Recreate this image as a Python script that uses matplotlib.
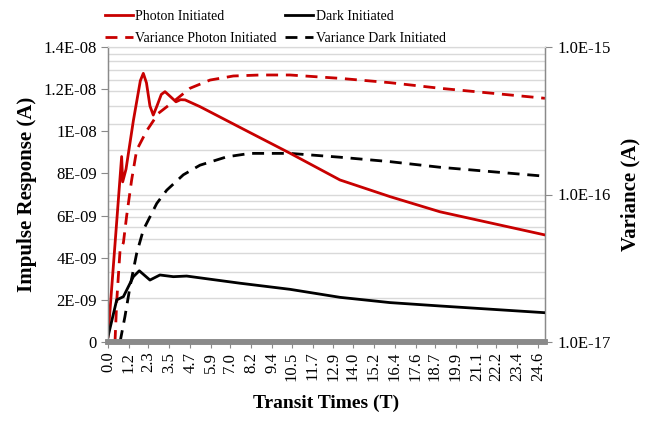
import matplotlib
matplotlib.use("Agg")
import matplotlib.pyplot as plt
from matplotlib.ticker import FixedLocator, LogLocator, NullFormatter

plt.rcParams['font.family'] = ['Liberation Serif', 'DejaVu Serif']

# ---- data ----
tick_labels = ["0.0", "1.2", "2.3", "3.5", "4.7", "5.9", "7.0", "8.2", "9.4", "10.5", "11.7",
               "12.9", "14.0", "15.2", "16.4", "17.6", "18.7", "19.9", "21.1", "22.2", "23.4", "24.6"]
tick_values = [float(s) for s in tick_labels]

photon_t = [0.0, 0.78, 0.84, 1.03, 1.45, 1.85, 2.02, 2.2, 2.4, 2.59, 2.8, 3.05, 3.26, 3.5,
            3.89, 4.15, 4.41, 5.26, 8.12, 10.41, 13.27, 16.13, 18.99, 25.0]
photon_v = [0.25e-9, 8.8e-9, 7.6e-9, 8.2e-9, 10.5e-9, 12.4e-9, 12.75e-9, 12.3e-9, 11.2e-9,
            10.77e-9, 11.2e-9, 11.75e-9, 11.88e-9, 11.7e-9, 11.40e-9, 11.5e-9, 11.49e-9,
            11.17e-9, 9.94e-9, 8.96e-9, 7.69e-9, 6.90e-9, 6.18e-9, 5.08e-9]

dark_t = [0.0, 0.50, 0.88, 1.45, 1.79, 2.40, 2.97, 3.74, 4.50, 5.84, 7.55, 10.41, 13.27,
          16.13, 18.99, 25.0]
dark_v = [0.25e-9, 2.0e-9, 2.15e-9, 3.1e-9, 3.38e-9, 2.94e-9, 3.18e-9, 3.1e-9, 3.13e-9,
          2.98e-9, 2.79e-9, 2.5e-9, 2.12e-9, 1.87e-9, 1.71e-9, 1.39e-9]

var_photon_t = [0.40, 0.50, 0.69, 0.88, 1.07, 1.35, 1.64, 2.21, 2.88, 3.74, 4.69, 5.84,
                7.17, 8.70, 10.41, 13.27, 16.13, 18.99, 25.0]
var_photon_v = [1.0e-17, 1.9e-17, 4.2e-17, 4.7e-17, 7.2e-17, 1.25e-16, 2.0e-16, 2.7e-16,
                3.55e-16, 4.26e-16, 5.25e-16, 5.97e-16, 6.36e-16, 6.46e-16, 6.46e-16,
                6.13e-16, 5.73e-16, 5.25e-16, 4.49e-16]

var_dark_t = [0.69, 0.97, 1.26, 1.64, 2.02, 2.79, 3.36, 4.31, 5.26, 6.79, 8.12, 10.41,
              13.27, 16.13, 18.99, 25.0]
var_dark_v = [1.0e-17, 1.49e-17, 2.37e-17, 3.99e-17, 5.75e-17, 8.7e-17, 1.07e-16, 1.36e-16,
              1.58e-16, 1.80e-16, 1.90e-16, 1.90e-16, 1.79e-16, 1.67e-16, 1.53e-16, 1.33e-16]

left_ticks = [0, 2e-9, 4e-9, 6e-9, 8e-9, 1e-8, 1.2e-8, 1.4e-8]
left_labels = ["0", "2E-09", "4E-09", "6E-09", "8E-09", "1E-08", "1.2E-08", "1.4E-08"]
right_ticks = [1e-17, 1e-16, 1e-15]
right_labels = ["1.0E-17", "1.0E-16", "1.0E-15"]

RED = "#c80000"
AX_GRAY = "#8a8a8a"
GRID = "#d9d9d9"
DASH = (0, (4.3, 2.8))

W, H = 647, 426
fig = plt.figure(figsize=(W / 100, H / 100), dpi=100)
L, R, B, T = 108, 545, 342, 47
ax = fig.add_axes([L / W, (H - B) / H, (R - L) / W, (B - T) / H])
ax2 = ax.twinx()
ax.set_zorder(ax2.get_zorder() + 1)
ax.patch.set_visible(False)

# right (log) axis
ax2.set_yscale('log')
ax2.set_ylim(1e-17, 1e-15)
ax2.yaxis.set_major_locator(FixedLocator(right_ticks))
ax2.set_yticklabels(right_labels)
ax2.yaxis.set_minor_locator(LogLocator(base=10, subs=range(2, 10)))
ax2.yaxis.set_minor_formatter(NullFormatter())
ax2.grid(True, which='both', axis='y', color=GRID, linewidth=1.0)
ax2.tick_params(axis='y', which='minor', length=0)
ax2.tick_params(axis='y', which='major', direction='out', length=5, color=AX_GRAY,
                labelsize=12, pad=4)
ax2.set_axisbelow(True)

l3, = ax2.plot(var_photon_t, var_photon_v, color=RED, lw=2.0, ls=DASH,
               label="Variance Photon Initiated")
l4, = ax2.plot(var_dark_t, var_dark_v, color="black", lw=2.0, ls=DASH,
               label="Variance Dark Initiated")

# left axis
l1, = ax.plot(photon_t, photon_v, color=RED, lw=2.0, label="Photon Initiated")
l2, = ax.plot(dark_t, dark_v, color="black", lw=2.0, label="Dark Initiated")
ax.set_ylim(0, 1.4e-8)
ax.set_xlim(0, 25.0)
ax.yaxis.set_major_locator(FixedLocator(left_ticks))
ax.set_yticklabels(left_labels)
ax.tick_params(axis='y', direction='out', length=5, color=AX_GRAY, labelsize=12, pad=3)

ax.set_xticks(tick_values)
ax.set_xticklabels(tick_labels, rotation=90)
ax.tick_params(axis='x', direction='out', length=4, color=AX_GRAY, labelsize=12, pad=3)
ax2.set_xlim(0, 25.0)

for a in (ax, ax2):
    a.spines['top'].set_color(GRID)
    a.spines['left'].set_color(AX_GRAY)
    a.spines['right'].set_color(AX_GRAY)
    a.spines['bottom'].set_color(AX_GRAY)
    a.spines['bottom'].set_linewidth(4)
ax.spines['left'].set_linewidth(1.0)
ax2.spines['right'].set_linewidth(1.0)

ax.set_ylabel("Impulse Response (A)", fontsize=15, fontweight='bold', labelpad=5)
ax2.set_ylabel("Variance (A)", fontsize=15, fontweight='bold', labelpad=7)
ax.set_xlabel("Transit Times (T)", fontsize=14, fontweight='bold', labelpad=10)

fig.legend([l1, l3, l2, l4],
           ["Photon Initiated", "Variance Photon Initiated", "Dark Initiated",
            "Variance Dark Initiated"],
           ncol=2, loc='upper left', bbox_to_anchor=(95 / W, 1.0), frameon=False,
           fontsize=10, handlelength=2.0, handletextpad=0.2, columnspacing=0.6,
           labelspacing=0.65, borderaxespad=0.3)

fig.savefig("out.png", dpi=100)
